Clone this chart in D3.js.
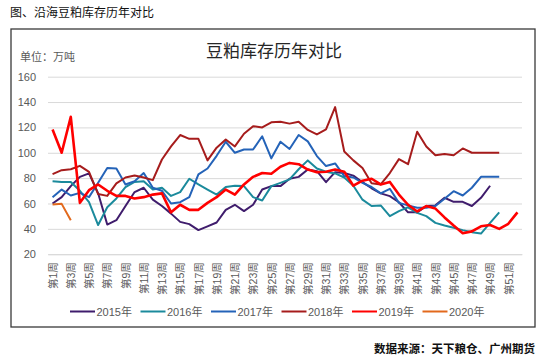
<!DOCTYPE html>
<html><head><meta charset="utf-8">
<script src="https://cdn.jsdelivr.net/npm/d3@7"></script>
<style>
html,body{margin:0;padding:0;background:#fff;}
text{font-family:"Liberation Sans","Noto Sans CJK SC",sans-serif;}
</style></head>
<body><svg id="c" width="550" height="357"></svg>
<script>
const weeks = ["第1周","第2周","第3周","第4周","第5周","第6周","第7周","第8周","第9周","第10周","第11周","第12周","第13周","第14周","第15周","第16周","第17周","第18周","第19周","第20周","第21周","第22周","第23周","第24周","第25周","第26周","第27周","第28周","第29周","第30周","第31周","第32周","第33周","第34周","第35周","第36周","第37周","第38周","第39周","第40周","第41周","第42周","第43周","第44周","第45周","第46周","第47周","第48周","第49周","第50周","第51周","第52周"];
const weekTicks = ["第1周","第3周","第5周","第7周","第9周","第11周","第13周","第15周","第17周","第19周","第21周","第23周","第25周","第27周","第29周","第31周","第33周","第35周","第37周","第39周","第41周","第43周","第45周","第47周","第49周","第51周"];
const yTicks = [20,40,60,80,100,120,140,160];
const seriesNames = ["2015年","2016年","2017年","2018年","2019年","2020年"];
const seriesColors = ["#3f1c6c","#1b8a9c","#2463b8","#a61c1c","#ff0000","#e2691c"];
const v2015 = [60,65,73.7,81,83.7,68,43.4,46.8,58,69,72.4,63,58,52,45.5,43.7,39,42,45,55,59,54,59,71,73.7,73.7,79.5,81,86.8,85.5,76.8,84.7,84,82,76.8,72,68,65.8,61,53,53,58,58.5,64.5,61.3,61.3,58,64.5,74];
const v2016 = [77.6,77,77,70,61,43,57,64,73,77,77.6,71,72.4,66,69,79.5,75,71,67,73,74,73.7,65,62.4,73.7,76.3,79,87,94,87.6,85,83.7,80.5,74,63,58,58.5,50,54,57,52.6,50,44.7,42.6,40.8,39,37.4,36.3,44.7,53];
const v2017 = [65,71,66.3,68.4,65,76.3,88,87.6,75,77.6,84,72.4,70,60,61,65,83,87.6,97.6,108.7,100,102.6,102.6,113,95.6,108.7,103,114,109,97.4,89.5,91.6,81.6,80.5,76.3,73,68,71.6,60.5,58.5,56.6,56.6,58,63.7,69.7,66.3,72.4,81,81,81];
const v2018 = [83.2,86.3,87,89.7,85,67.4,66,75.8,80.5,82,80.5,78.4,94.7,105,114,111,111,94,104,110.5,105,115,121,120,124,124.5,123,124.5,118,114.5,118.4,136,101,94,88,76,75,84,95,91,116.6,105,98,99,98,103.4,100,100,100,100];
const v2019 = [118.4,100,128.4,60.5,70.5,75,70,66,66,64,65,67,68,53,59,55,55,60.5,65,71,67,75,81,84,83.5,89,92,91,86.8,84.7,85,86.8,85,74,78,79.5,75,77,67,59,53.7,58,56,49,42.6,36.6,38,42,43,40,44,53];
const v2020 = [59.2,59.7,46.8];
const allSeries = [v2015,v2016,v2017,v2018,v2019,v2020];

const svg = d3.select("#c");
svg.append("rect").attr("width",550).attr("height",357).attr("fill","#fff");

svg.append("text").attr("x",10).attr("y",17).attr("font-size",12).attr("fill","#111").text("图、沿海豆粕库存历年对比");

// frame
svg.append("rect").attr("x",11).attr("y",29).attr("width",524).attr("height",298)
  .attr("fill","none").attr("stroke","#3a3a3a").attr("stroke-width",1.3);

svg.append("text").attr("x",274).attr("y",57).attr("text-anchor","middle")
  .attr("font-size",17).attr("fill","#262626").text("豆粕库存历年对比");
svg.append("text").attr("x",20).attr("y",61).attr("font-size",11).attr("fill","#595959").text("单位：万吨");

const x = d3.scaleBand().domain(weeks).range([48,522]).padding(0);
const cx = w => x(w) + x.bandwidth()/2;
const y = d3.scaleLinear().domain([20,160]).range([254.2,76.7]);

// grid + y labels
const ya = svg.append("g").attr("transform","translate(48,0)")
  .call(d3.axisLeft(y).tickValues(yTicks).tickSize(-474).tickPadding(12));
ya.select(".domain").remove();
ya.selectAll(".tick line").attr("stroke","#d9d9d9").attr("stroke-width",1);
ya.selectAll(".tick text").attr("font-size",11).attr("fill","#595959");

// x axis
const xa = svg.append("g").attr("transform","translate(0,254.2)")
  .call(d3.axisBottom(x).tickValues(weekTicks).tickSize(0));
xa.select(".domain").attr("stroke","#d9d9d9");
xa.selectAll(".tick text").attr("font-size",10.5).attr("fill","#595959")
  .attr("transform","rotate(-90)").attr("text-anchor","end")
  .attr("x",-8).attr("y",0).attr("dy","0.4em");

const line = d3.line().x((d,i)=>cx(weeks[i])).y(d=>y(d));
const order = [0,1,2,3,5,4];
order.forEach(k=>{
  svg.append("path").datum(allSeries[k]).attr("d",line)
    .attr("fill","none").attr("stroke",seriesColors[k])
    .attr("stroke-width", k===4?2.6:2).attr("stroke-linejoin","round");
});

// legend
const lg = svg.append("g");
seriesNames.forEach((n,i)=>{
  const lx = 70 + i*70.5;
  lg.append("line").attr("x1",lx).attr("x2",lx+25).attr("y1",311.5).attr("y2",311.5)
    .attr("stroke",seriesColors[i]).attr("stroke-width",2);
  lg.append("text").attr("x",lx+26.5).attr("y",315.5).attr("font-size",11).attr("fill","#595959").text(n);
});

svg.append("text").attr("x",535).attr("y",353).attr("text-anchor","end")
  .attr("font-size",11.5).attr("font-weight","bold").attr("fill","#111").text("数据来源：天下粮仓、广州期货");
</script></body></html>
